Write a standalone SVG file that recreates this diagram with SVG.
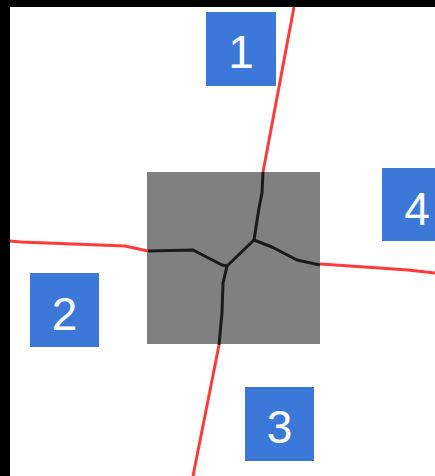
<svg xmlns="http://www.w3.org/2000/svg" width="435" height="476" viewBox="0 0 435 476">
<style>
.red{fill:none;stroke:#ff3b3b;stroke-width:3;stroke-linejoin:round}
.blk{fill:none;stroke:#1a1a1a;stroke-width:3;stroke-linejoin:round}
.box{fill:#3c78d8}
.lbl{fill:#ffffff;font-family:"Liberation Sans",Arial,sans-serif;font-size:46px;text-anchor:middle}
</style>
<rect x="0" y="0" width="435" height="476" fill="#ffffff"/>
<rect x="0" y="0" width="435" height="7" fill="#000000"/>
<rect x="0" y="0" width="10" height="476" fill="#000000"/>
<g id="cell">
<rect x="147" y="172" width="173" height="172" fill="#808080"/>
</g>
<g id="connectors">
<polyline class="red" points="294,7 263,172"/>
<polyline class="red" points="10,241 21,242 125,246 148,251"/>
<polyline class="red" points="219,345 193,476"/>
<polyline class="red" points="320,264 365,267 408,270 435,273"/>
<polyline class="blk" points="263,172 262,193 259,208 254,240"/>
<polyline class="blk" points="254,240 272,247 297,260 320,265"/>
<polyline class="blk" points="148,251 193,250 222,265 227,266"/>
<polyline class="blk" points="227,266 254,240"/>
<polyline class="blk" points="227,266 223,283 222,313 219,345"/>
</g>
<g id="node1"><rect class="box" x="206" y="12" width="70" height="74"/><text class="lbl" x="241" y="68">1</text></g>
<g id="node2"><rect class="box" x="30" y="273" width="69" height="74"/><text class="lbl" x="64.5" y="330">2</text></g>
<g id="node3"><rect class="box" x="245" y="387" width="69" height="74"/><text class="lbl" x="279.5" y="443">3</text></g>
<g id="node4"><rect class="box" x="382" y="168" width="70" height="73"/><text class="lbl" x="417" y="225">4</text></g>
</svg>
